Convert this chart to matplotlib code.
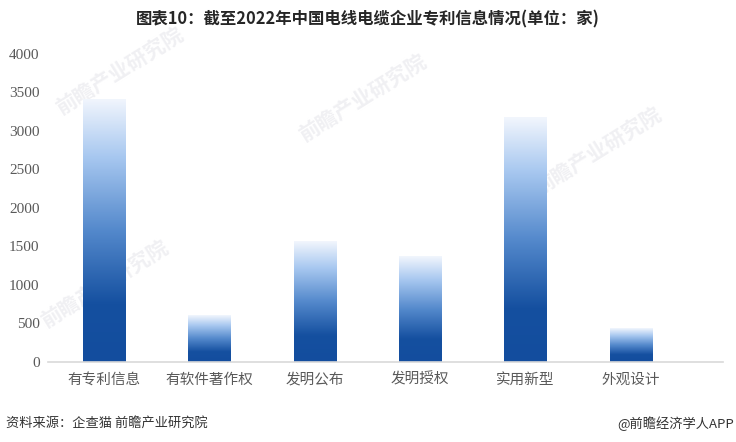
import numpy as np
import matplotlib
matplotlib.use("Agg")
import matplotlib.pyplot as plt
from matplotlib.colors import LinearSegmentedColormap

plt.rcParams['font.family'] = ['Noto Sans CJK SC', 'DejaVu Sans']

# data
categories = ["有专利信息", "有软件著作权", "发明公布", "发明授权", "实用新型", "外观设计"]
values = [3420, 605, 1570, 1375, 3185, 440]
yticks = [0, 500, 1000, 1500, 2000, 2500, 3000, 3500, 4000]

fig = plt.figure(figsize=(7.36, 4.42), dpi=100)
ax = fig.add_axes([0.065, 0.182, 0.917, 0.696])

# gradient: dark blue at bottom -> light at top
cmap = LinearSegmentedColormap.from_list(
    "bluegrad",
    [(0.0, "#134d9e"), (0.22, "#1550a0"), (0.5, "#5489cc"),
     (0.78, "#a8c8f0"), (1.0, "#f2f6fd")])
grad = np.linspace(0, 1, 256).reshape(-1, 1)

bars = ax.bar(range(len(categories)), values, width=0.4, color="none",
              edgecolor="none")
for b in bars:
    x0, y0 = b.get_x(), b.get_y()
    w, h = b.get_width(), b.get_height()
    im = ax.imshow(grad, cmap=cmap, origin="lower", aspect="auto",
                   extent=[x0, x0 + w, y0, y0 + h], zorder=2)
    im.set_clip_path(b)

ax.set_xlim(-0.53, 5.87)
ax.set_ylim(0, 4000)
ax.set_yticks(yticks)
ax.set_yticklabels([str(v) for v in yticks], family="Liberation Serif",
                   fontsize=11, color="#595959")
ax.set_xticks(range(len(categories)))
ax.set_xticklabels(categories, fontsize=10.5, color="#595959")
ax.tick_params(axis="both", length=0)
ax.tick_params(axis="x", pad=8)
ax.tick_params(axis="y", pad=6)
for s in ["top", "right", "left"]:
    ax.spines[s].set_visible(False)
ax.spines["bottom"].set_color("#d9d9d9")
ax.spines["bottom"].set_linewidth(1.2)

# faint watermarks behind the bars
for (wx, wy) in [(0.07, 0.74), (0.40, 0.68), (0.72, 0.56), (0.05, 0.26)]:
    ax.text(wx, wy, "前瞻产业研究院", fontsize=15, fontweight="bold",
            color="#f0f0f3", rotation=32, zorder=1,
            transform=fig.transFigure, clip_on=False)

fig.text(0.5, 0.955, "图表10：截至2022年中国电线电缆企业专利信息情况(单位：家)",
         ha="center", va="center", fontsize=11.8, fontweight="bold",
         color="#262626")
fig.text(0.008, 0.042, "资料来源：企查猫 前瞻产业研究院", ha="left",
         va="center", fontsize=9.5, color="#333333")
fig.text(0.997, 0.042, "@前瞻经济学人APP", ha="right", va="center",
         fontsize=9.5, color="#333333")

fig.savefig("out.png", dpi=100)
